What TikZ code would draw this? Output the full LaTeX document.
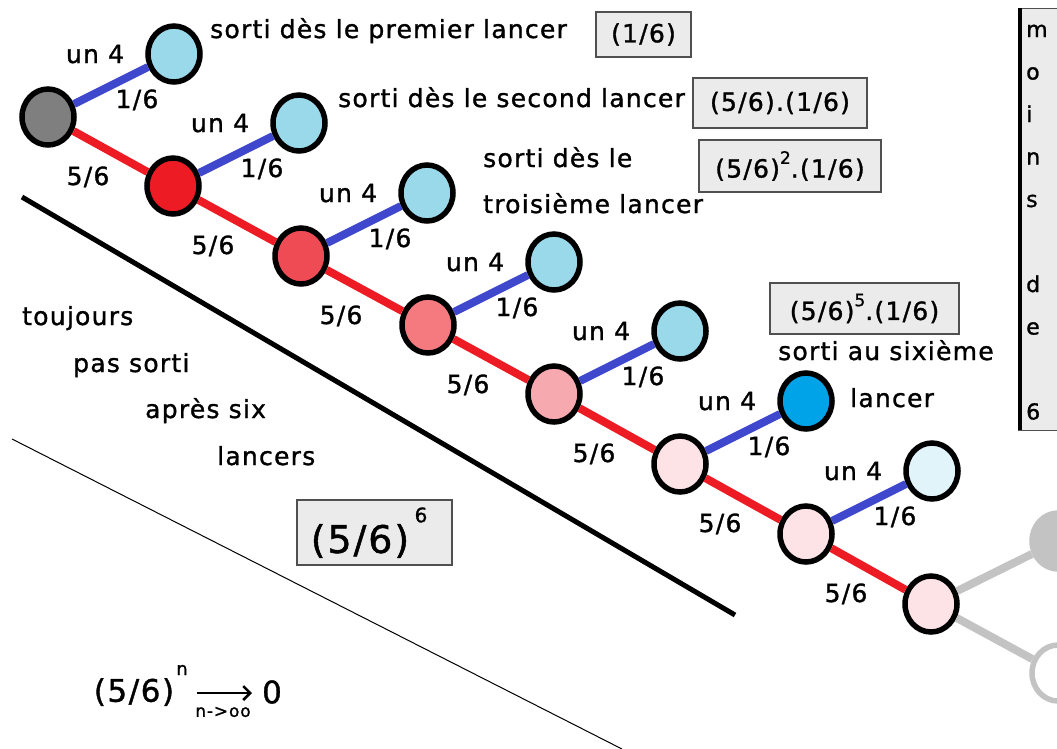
\documentclass[tikz,border=0pt]{standalone}
\usepackage{fontspec}
\setmainfont[LetterSpace=5,FakeBold=1.2]{DejaVu Sans}
\usetikzlibrary{shapes.geometric,arrows.meta}
\definecolor{redl}{HTML}{ED1C24}
\definecolor{bluel}{HTML}{3F48CC}
\definecolor{grayl}{HTML}{C3C3C3}
\definecolor{boxf}{HTML}{EBEBEB}
\definecolor{boxb}{HTML}{505050}
\definecolor{cA}{HTML}{7F7F7F}
\definecolor{cB}{HTML}{ED1C24}
\definecolor{cC}{HTML}{EF4B55}
\definecolor{cD}{HTML}{F47A80}
\definecolor{cE}{HTML}{F6A9AF}
\definecolor{cF}{HTML}{FDE3E6}
\definecolor{lA}{HTML}{99D9EA}
\definecolor{lB}{HTML}{00A2E8}
\definecolor{lC}{HTML}{E1F4FA}
\newcommand\myexp[2][17]{\raisebox{0.55em}{\fontsize{#1}{#1}\selectfont #2}}
\begin{document}
\begin{tikzpicture}[x=1pt,y=-1pt,
  every node/.style={inner sep=0pt, font=\fontsize{25}{30}\selectfont},
  dot/.style={ellipse, draw=black, line width=5.5pt, minimum width=52pt, minimum height=56pt, inner sep=0pt},
  redge/.style={draw=redl, line width=8pt},
  bedge/.style={draw=bluel, line width=8pt},
  gedge/.style={draw=grayl, line width=8pt},
  lbl/.style={anchor=base},
  txt/.style={anchor=base west},
  fbox/.style={draw=boxb, fill=boxf, line width=1.2pt, inner sep=0pt, anchor=center}]
\useasboundingbox (0,0) rectangle (1057,748);
% chain nodes
\foreach \i/\x/\y/\c in {0/48/117/cA,1/173/186/cB,2/301/256/cC,3/428/325/cD,4/554/394/cE,5/680/464/cF,6/806/534/cF,7/931/604/cF}
  \node[dot, fill=\c] (n\i) at (\x,\y) {};
% leaves
\foreach \i/\x/\y/\c in {0/48/117/lA,1/173/186/lA,2/301/256/lA,3/428/325/lA,4/554/394/lA,5/680/464/lB,6/806/534/lC}
  \node[dot, fill=\c] (l\i) at (\x+126,\y-63) {};
% gray nodes
\node[dot, draw=grayl, fill=grayl] (g1) at (1058,541) {};
\node[dot, draw=grayl, fill=white] (g2) at (1058,673) {};
% edges
\foreach \i in {0,...,6} \draw[bedge] (n\i) -- (l\i);
\foreach \i/\j in {0/1,1/2,2/3,3/4,4/5,5/6,6/7} \draw[redge] (n\i) -- (n\j);
\draw[gedge] (n7) -- (g1);
\draw[gedge] (n7) -- (g2);
% edge labels
\foreach \i/\x/\y in {0/48/117,1/173/186,2/301/256,3/428/325,4/554/394,5/680/464,6/806/534}{
  \node[lbl] (u\i) at (\x+47,\y-54) {un 4};
  \node[lbl] (p\i) at (\x+89,\y-9) {1/6};
  \node[lbl] (q\i) at (\x+40,\y+68) {5/6};
}
% texts
\node[txt] (t1) at (210,38) {sorti dès le premier lancer};
\node[txt] (t2) at (338,107) {sorti dès le second lancer};
\node[txt] (t3) at (483,167) {sorti dès le};
\node[txt] (t4) at (483,213) {troisième lancer};
\node[txt] (t5) at (778,360) {sorti au sixième};
\node[txt] (t6) at (850,407) {lancer};
\node[txt] (t7) at (22,325) {toujours};
\node[txt] (t8) at (73,372) {pas sorti};
\node[txt] (t9) at (145,418) {après six};
\node[txt] (t10) at (217,465) {lancers};
% boxes
\node[fbox, minimum width=95pt, minimum height=45pt] (b1) at (643.5,34.5) {(1/6)};
\node[fbox, minimum width=174pt, minimum height=50pt] (b2) at (780,103) {(5/6).(1/6)};
\node[fbox, minimum width=182pt, minimum height=52pt] (b3) at (790,166) {(5/6)\myexp{2}.(1/6)};
\node[fbox, minimum width=189pt, minimum height=51pt] (b5) at (864.5,308.5) {(5/6)\myexp{5}.(1/6)};
\node[fbox, minimum width=155pt, minimum height=65pt] (b6) at (374.5,532.5) {};
\node (b6t) at (360,541) {\fontsize{38}{44}\selectfont (5/6)};
\node (b6e) at (421,515) {\fontsize{20}{24}\selectfont 6};
% vertical box
\fill[boxf] (1018,8) rectangle (1062,430);
\draw[boxb, line width=1pt] (1018,8) -- (1062,8);
\draw[boxb, line width=1pt] (1018,430) -- (1062,430);
\draw[black, line width=4pt] (1020,8) -- (1020,430);
\foreach \ch/\yy in {m/37,o/79.5,i/122,n/164.5,s/207,d/292,e/334.5,6/419.5}
  \node[anchor=base west, font=\fontsize{22}{26}\selectfont] (v\ch) at (1026,\yy) {\ch};
% separating lines
\coordinate (s1) at (22,197);
\coordinate (s2) at (735,615);
\draw[black, line width=5pt] (s1) -- (s2);
\coordinate (r1) at (12,439);
\coordinate (r2) at (622,749);
\draw[black, line width=1pt] (r1) -- (r2);
% limit formula
\node (f1) at (134,692) {\fontsize{31}{36}\selectfont (5/6)};
\node (f2) at (182,670) {\fontsize{18}{20}\selectfont n};
\coordinate (a1) at (197,693);
\coordinate (a2) at (252,693);
\draw[line width=2.5pt, -{Straight Barb[length=7pt,width=14pt]}] (a1) -- (a2);
\node (f3) at (223,712) {\fontsize{17}{20}\selectfont n->oo};
\node (f4) at (272,692) {\fontsize{31}{36}\selectfont 0};
\end{tikzpicture}
\end{document}
